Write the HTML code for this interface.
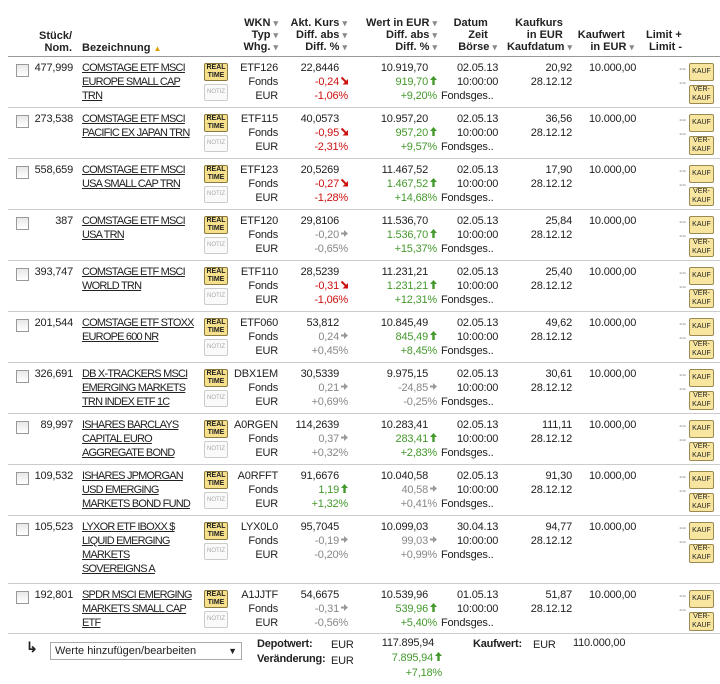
<!DOCTYPE html>
<html><head><meta charset="utf-8">
<style>
body{margin:0;width:720px;height:684px;background:#fff;font-family:"Liberation Sans",Arial,sans-serif;font-size:11px;color:#222;position:relative;overflow:hidden}
.a{position:absolute;white-space:nowrap;line-height:14px;letter-spacing:-0.2px}
.r{text-align:right}
.h{position:absolute;font-weight:bold;font-size:11px;line-height:12px;text-align:right;white-space:nowrap;color:#222}
.sep{position:absolute;left:8px;width:712px;height:1px;background:#ccc}
.cb{position:absolute;width:11px;height:11px;border:1px solid #999;background:linear-gradient(#e8e8e8,#fff)}
.name{text-decoration:underline;color:#222;letter-spacing:-0.8px}
.rt{position:absolute;width:22px;height:16px;border:1px solid #8a7a40;background:#f6e08c;font-size:7px;line-height:8px;text-align:center;font-weight:bold;border-radius:2px}
.nz{position:absolute;width:22px;height:15px;border:1px solid #ccc;background:#fafafa;font-size:6px;line-height:15px;text-align:center;color:#aaa;border-radius:2px}
.btn{position:absolute;width:23px;border:1px solid #9a8a50;background:#f8e6a0;font-size:7px;text-align:center;border-radius:2px;color:#222}
.red{color:#cc1111}.grn{color:#44992c}.gry{color:#888}
.dn{font-size:9px}
.ar{display:inline-block;width:9px;height:9px;text-align:right}
.ar svg{display:block;margin-left:2px}
</style></head>
<body>
<div class="h" style="left:30px;top:30px;width:42px">Stück/<br>Nom.</div>
<div class="h" style="left:82px;top:42px;text-align:left">Bezeichnung <span style="color:#e0a000;font-size:8px">▲</span></div>
<div class="h" style="left:228px;top:17px;width:50px">WKN <span class="gry dn">▾</span><br>Typ <span class="gry dn">▾</span><br>Whg. <span class="gry dn">▾</span></div>
<div class="h" style="left:280px;top:17px;width:67px">Akt. Kurs <span class="gry dn">▾</span><br>Diff. abs <span class="gry dn">▾</span><br>Diff. % <span class="gry dn">▾</span></div>
<div class="h" style="left:357px;top:17px;width:80px">Wert in EUR <span class="gry dn">▾</span><br>Diff. abs <span class="gry dn">▾</span><br>Diff. % <span class="gry dn">▾</span></div>
<div class="h" style="left:437px;top:17px;width:60px">Datum&nbsp;&nbsp;&nbsp;<br>Zeit&nbsp;&nbsp;&nbsp;<br>Börse <span class="gry dn">▾</span></div>
<div class="h" style="left:502px;top:17px;width:70px">Kaufkurs&nbsp;&nbsp;&nbsp;<br>in EUR&nbsp;&nbsp;&nbsp;<br>Kaufdatum <span class="gry dn">▾</span></div>
<div class="h" style="left:574px;top:29px;width:60px">Kaufwert&nbsp;&nbsp;&nbsp;<br>in EUR <span class="gry dn">▾</span></div>
<div class="h" style="left:646px;top:29px;text-align:left">Limit +<br>&nbsp;Limit -</div>
<div class="sep" style="top:56px;background:#999"></div>
<div id="rows"></div>
<div class="a" style="left:26px;top:640px;font-size:14px;font-weight:bold">↳</div>
<div class="a" style="left:50px;top:642px;width:186px;height:16px;border:1px solid #aaa;font-size:11px;line-height:16px;padding-left:4px;letter-spacing:0">Werte hinzufügen/bearbeiten <span style="position:absolute;right:4px;font-size:9px">▼</span></div>
<div class="a" style="left:257px;top:637px;font-weight:bold;font-size:11px">Depotwert:</div>
<div class="a" style="left:257px;top:652px;font-weight:bold;font-size:11px">Veränderung:</div>
<div class="a" style="left:331px;top:638px">EUR</div>
<div class="a" style="left:331px;top:654px">EUR</div>
<div class="a r" style="left:360px;width:74px;top:636px">117.895,94</div>
<div class="a r grn" style="left:360px;width:82px;top:651px">7.895,94<span class="ar"><svg width="7" height="9"><polygon points="3.5,0 7,4 4.7,4 4.7,9 2.3,9 2.3,4 0,4" fill="#44992c"/></svg></span></div>
<div class="a r grn" style="left:360px;width:82px;top:666px">+7,18%</div>
<div class="a" style="left:473px;top:637px;font-weight:bold;font-size:11px">Kaufwert:</div>
<div class="a" style="left:533px;top:638px">EUR</div>
<div class="a" style="left:573px;top:636px">110.000,00</div>
<script>
const qty=["477,999","273,538","558,659","387","393,747","201,544","326,691","89,997","109,532","105,523","192,801"];
const names=[["COMSTAGE ETF MSCI","EUROPE SMALL CAP","TRN"],["COMSTAGE ETF MSCI","PACIFIC EX JAPAN TRN"],["COMSTAGE ETF MSCI","USA SMALL CAP TRN"],["COMSTAGE ETF MSCI","USA TRN"],["COMSTAGE ETF MSCI","WORLD TRN"],["COMSTAGE ETF STOXX","EUROPE 600 NR"],["DB X-TRACKERS MSCI","EMERGING MARKETS","TRN INDEX ETF 1C"],["ISHARES BARCLAYS","CAPITAL EURO","AGGREGATE BOND"],["ISHARES JPMORGAN","USD EMERGING","MARKETS BOND FUND"],["LYXOR ETF IBOXX $","LIQUID EMERGING","MARKETS","SOVEREIGNS A"],["SPDR MSCI EMERGING","MARKETS SMALL CAP","ETF"]];
const wkn=["ETF126","ETF115","ETF123","ETF120","ETF110","ETF060","DBX1EM","A0RGEN","A0RFFT","LYX0L0","A1JJTF"];
const kurs=["22,8446","40,0573","20,5269","29,8106","28,5239","53,812","30,5339","114,2639","91,6676","95,7045","54,6675"];
const kursAbs=["-0,24","-0,95","-0,27","-0,20","-0,31","0,24","0,21","0,37","1,19","-0,19","-0,31"];
const kursPct=["-1,06%","-2,31%","-1,28%","-0,65%","-1,06%","+0,45%","+0,69%","+0,32%","+1,32%","-0,20%","-0,56%"];
const kursTrend=["red","red","red","gry","red","gry","gry","gry","grn","gry","gry"];
const wert=["10.919,70","10.957,20","11.467,52","11.536,70","11.231,21","10.845,49","9.975,15","10.283,41","10.040,58","10.099,03","10.539,96"];
const wertAbs=["919,70","957,20","1.467,52","1.536,70","1.231,21","845,49","-24,85","283,41","40,58","99,03","539,96"];
const wertPct=["+9,20%","+9,57%","+14,68%","+15,37%","+12,31%","+8,45%","-0,25%","+2,83%","+0,41%","+0,99%","+5,40%"];
const wertTrend=["grn","grn","grn","grn","grn","grn","gry","grn","gry","gry","grn"];
const datum=["02.05.13","02.05.13","02.05.13","02.05.13","02.05.13","02.05.13","02.05.13","02.05.13","02.05.13","30.04.13","01.05.13"];
const kaufkurs=["20,92","36,56","17,90","25,84","25,40","49,62","30,61","111,11","91,30","94,77","51,87"];
const rowH=[51,51,51,51,51,51,51,51,51,68,50];
function arrowSvg(tr){
  if(tr==='grn')return '<span class="ar"><svg width="7" height="9"><polygon points="3.5,0 7,4 4.7,4 4.7,9 2.3,9 2.3,4 0,4" fill="#44992c"/></svg></span>';
  if(tr==='red')return '<span class="ar"><svg width="7" height="9"><line x1="0.5" y1="1.5" x2="5" y2="6" stroke="#cc1111" stroke-width="2"/><polygon points="7,3 7,8.5 1.5,8.5" fill="#cc1111"/></svg></span>';
  return '<span class="ar"><svg width="7" height="9"><polygon points="0,3.5 3,3.5 3,1 7,4.5 3,8 3,5.5 0,5.5" fill="#999"/></svg></span>';
}
const box=document.getElementById('rows');
function mk(cls,left,y,html,w){const d=document.createElement('div');d.className=cls;d.style.left=left+'px';d.style.top=y+'px';if(w)d.style.width=w+'px';d.innerHTML=html;box.appendChild(d);return d;}
let rowY=56;
for(let i=0;i<qty.length;i++){
  const t=rowY+5;
  let e;
  e=mk('cb',16,rowY+8,'');
  
  
  e=mk('a r',30,t,qty[i],43);
  
  
  e=mk('a name',82,t,names[i].join('<br>'));
  
  
  e=mk('rt',204,rowY+7,'REAL<br>TIME');
  
  
  e=mk('nz',204,rowY+28,'NOTIZ');
  
  
  e=mk('a r',228,t,wkn[i]+'<br>Fonds<br>EUR',50);
  
  
  e=mk('a r',278,t,'<span style="padding-right:9px">'+kurs[i]+'</span><br><span class="'+kursTrend[i]+'">'+kursAbs[i]+arrowSvg(kursTrend[i])+'</span><br><span class="'+kursTrend[i]+'">'+kursPct[i]+'</span>',70);
  
  
  e=mk('a r',357,t,'<span style="padding-right:9px">'+wert[i]+'</span><br><span class="'+wertTrend[i]+'">'+wertAbs[i]+arrowSvg(wertTrend[i])+'</span><br><span class="'+wertTrend[i]+'">'+wertPct[i]+'</span>',80);
  
  
  e=mk('a',457,t,datum[i]+'<br>10:00:00');
  
  
  e=mk('a',441,t+28,'Fondsges..');
  
  
  e=mk('a r',512,t,kaufkurs[i]+'<br>28.12.12',60);
  
  
  e=mk('a',589,t,'10.000,00');
  
  
  e=mk('a r gry',660,t+1,'--<br>--',26);
  
  
  e=mk('btn',689,rowY+7,'KAUF');
  e.style.height='16px';e.style.lineHeight='16px';
  
  
  e=mk('btn',689,rowY+29,'VER-<br>KAUF');
  e.style.height='17px';e.style.lineHeight='8.5px';
  
  
  rowY+=rowH[i];
  e=mk('sep',8,rowY,'');
  
  
}
</script>
</body></html>
